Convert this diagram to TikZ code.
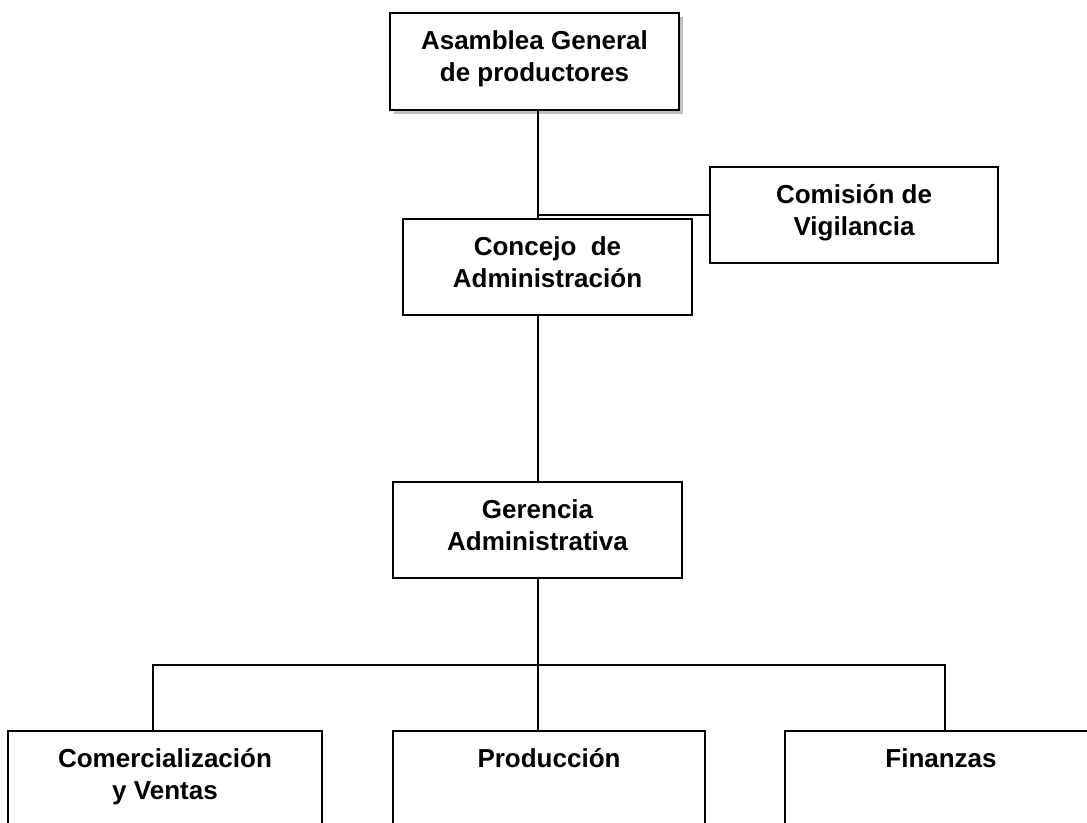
\documentclass[tikz,border=0pt]{standalone}
\usepackage{fontspec}
\setmainfont{Liberation Sans}
\usetikzlibrary{shadows}

\begin{document}
\begin{tikzpicture}[x=0.75pt,y=-0.75pt,
  unit/.style={draw,line width=1.5pt,fill=white,anchor=north,align=center,
    inner xsep=4pt,inner ysep=0pt,text height=51pt,text depth=21pt,
    font=\fontsize{19.5}{24}\selectfont\bfseries},
  area/.style={unit,text depth=130pt},
  wire/.style={draw,line width=1.5pt}]
\useasboundingbox (0,0) rectangle (1087,822);
\clip (0,0) rectangle (1087,822);

% Top levels
\node[unit,minimum width=216.75pt,text depth=21.75pt,
  drop shadow={shadow xshift=3pt,shadow yshift=-3pt,fill=black!25,opacity=1}]
  (asamblea) at (534.5,12) {Asamblea General\\de productores};
\node[unit,minimum width=216.75pt] (concejo) at (547.5,218) {Concejo~ de\\Administraci\'on};
\node[unit,minimum width=216pt] (comision) at (854,166) {Comisi\'on de\\Vigilancia};
\node[unit,minimum width=216.75pt] (gerencia) at (537.5,481) {Gerencia\\Administrativa};

% Areas
\node[area,minimum width=235.5pt] (comercial) at (165,730) {Comercializaci\'on\\y Ventas};
\node[area,minimum width=234pt,text height=27pt] (produccion) at (549,730) {Producci\'on};
\node[area,minimum width=234pt,text height=27pt] (finanzas) at (941,730) {Finanzas};

% Connectors
\path[wire] (gerencia.north |- asamblea.south) -- (gerencia.north |- concejo.north);
\path[wire] (comision.west) -- (comision.west -| gerencia.north);
\path[wire] (gerencia.north |- concejo.south) -- (gerencia.north);
\path[wire] (gerencia.south) -- (gerencia.south |- produccion.north);

% Branch line
\coordinate (busL) at (153,665);
\coordinate (busR) at (945,665);
\path[wire] (busL |- comercial.north) -- (busL) -- (busR) -- (busR |- finanzas.north);

\end{tikzpicture}
\end{document}
